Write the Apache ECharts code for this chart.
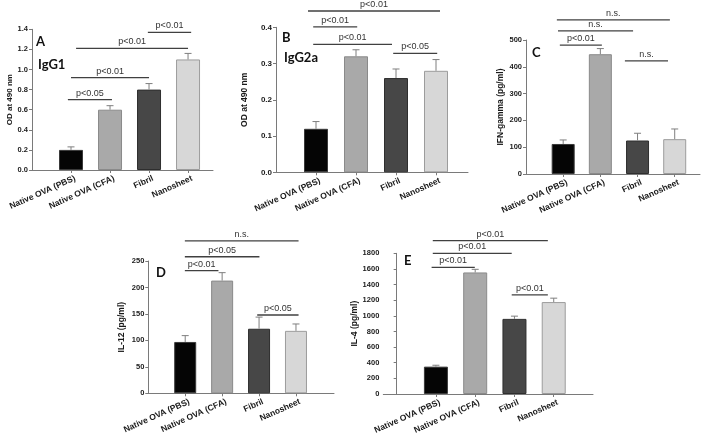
<!DOCTYPE html>
<html>
<head>
<meta charset="utf-8">
<script src="https://cdn.jsdelivr.net/npm/echarts@6/dist/echarts.min.js"></script>
<style>html,body{margin:0;padding:0;background:#fff}#c{width:713px;height:441px}</style>
</head>
<body>
<div id="c"></div>
<script>
// ---------- data ----------
const categories = ['Native OVA (PBS)', 'Native OVA (CFA)', 'Fibril', 'Nanosheet'];
const catPos = [1, 2, 3, 4];

const igg1Mean = [0.2, 0.6, 0.8, 1.1];
const igg1Err  = [0.03, 0.04, 0.06, 0.06];
const igg1Sig  = [[0.92, 2.05, 0.70, 'p<0.05'], [1.0, 3.0, 0.92, 'p<0.01'], [1.13, 4.0, 1.21, 'p<0.01'], [2.97, 4.08, 1.37, 'p<0.01']];
const igg1Ticks = [0, 1.4, 0.2];

const igg2aMean = [0.12, 0.32, 0.26, 0.28];
const igg2aErr  = [0.02, 0.018, 0.025, 0.031];
const igg2aSig  = [[0.8, 4.1, 0.445, 'p<0.01'], [0.93, 2.03, 0.401, 'p<0.01'], [0.93, 2.9, 0.353, 'p<0.01'], [2.93, 4.03, 0.328, 'p<0.05']];
const igg2aTicks = [0, 0.4, 0.1];

const ifnMean = [112, 447, 125, 130];
const ifnErr  = [15, 21, 27, 38];
const ifnSig  = [[0.83, 3.87, 575, 'n.s.'], [0.86, 2.88, 534, 'n.s.'], [0.91, 2.04, 481, 'p<0.01'], [2.66, 3.82, 422, 'n.s.']];
const ifnTicks = [0, 500, 100];

const il12Mean = [97, 213, 122, 118];
const il12Err  = [12, 15, 22, 13];
const il12Sig  = [[0.99, 4.07, 288, 'n.s.'], [0.99, 3.01, 258, 'p<0.05'], [0.99, 1.9, 232, 'p<0.01'], [2.95, 4.07, 148, 'p<0.05']];
const il12Ticks = [0, 250, 50];

const il4Mean = [350, 1555, 961, 1176];
const il4Err  = [18, 40, 35, 50];
const il4Sig  = [[0.92, 3.85, 1962, 'p<0.01'], [0.92, 2.93, 1800, 'p<0.01'], [0.89, 1.99, 1621, 'p<0.01'], [2.93, 3.85, 1267, 'p<0.01']];
const il4Ticks = [0, 1800, 200];

// ---------- styles / layout ----------
const barFill   = ['#050505', '#a9a9a9', '#474747', '#d7d7d7'];
const barBorder = ['#3a3a3a', '#8a8a8a', '#2e2e2e', '#9c9c9c'];
const FONT = 'Liberation Sans';
const LABEL_ROT = 24 * Math.PI / 180;

const panels = [
  {mean: igg1Mean, err: igg1Err, sig: igg1Sig, ticks: igg1Ticks, dec: 1, name: 'OD at 490 nm', letter: 'A', sub: 'IgG1',
   grid: {left: 32, top: 29.3, width: 181, height: 140.7}, xr: [0, 4.64], bw: 24, nameGap: 16, nameSize: 8, tickSize: 7.5,
   letterPos: [36, 35], subPos: [38, 58]},
  {mean: igg2aMean, err: igg2aErr, sig: igg2aSig, ticks: igg2aTicks, dec: 1, name: 'OD at 490 nm', letter: 'B', sub: 'IgG2a',
   grid: {left: 276, top: 27.3, width: 192, height: 145}, xr: [0, 4.8], bw: 24, nameGap: 27, nameSize: 8.5, tickSize: 8,
   letterPos: [282, 31], subPos: [284, 51]},
  {mean: ifnMean, err: ifnErr, sig: ifnSig, ticks: ifnTicks, dec: 0, name: 'IFN-gamma (pg/ml)', letter: 'C', sub: '',
   grid: {left: 526, top: 40, width: 174, height: 134}, xr: [0, 4.68], bw: 23, nameGap: 21, nameSize: 8.5, tickSize: 7.5,
   letterPos: [532, 46]},
  {mean: il12Mean, err: il12Err, sig: il12Sig, ticks: il12Ticks, dec: 0, name: 'IL-12 (pg/ml)', letter: 'D', sub: '',
   grid: {left: 148.3, top: 261, width: 185.7, height: 132.3}, xr: [0, 5.03], bw: 22, nameGap: 22, nameSize: 8.5, tickSize: 7.5,
   letterPos: [156, 266]},
  {mean: il4Mean, err: il4Err, sig: il4Sig, ticks: il4Ticks, dec: 0, name: 'IL-4 (pg/ml)', letter: 'E', sub: '',
   grid: {left: 383.3, top: 253.3, width: 209.7, height: 140.7}, xr: [-0.34, 5.0], bw: 24, nameGap: 17, nameSize: 8.5, tickSize: 7.5,
   letterPos: [404, 254]}
];

const grids = [], xAxes = [], yAxes = [], series = [], graphics = [];

panels.forEach((p, i) => {
  grids.push(Object.assign({}, p.grid));
  xAxes.push({
    type: 'value', gridIndex: i, min: p.xr[0], max: p.xr[1],
    splitLine: {show: false},
    axisLine: {show: true, lineStyle: {color: '#7a7a7a', width: 1}},
    axisTick: {show: true, customValues: catPos, length: 3, lineStyle: {color: '#7a7a7a'}},
    axisLabel: {show: false}
  });
  yAxes.push({
    type: 'value', gridIndex: i, min: p.ticks[0], max: p.ticks[1], interval: p.ticks[2],
    splitLine: {show: false},
    axisLine: {show: true, lineStyle: {color: '#7a7a7a', width: 1}},
    axisTick: {show: true, length: 3, lineStyle: {color: '#7a7a7a'}},
    axisLabel: {color: '#1a1a1a', fontWeight: 'bold', fontSize: p.tickSize, fontFamily: FONT, margin: 4,
      formatter: v => v.toFixed(p.dec)},
    name: p.name, nameLocation: 'middle', nameGap: p.nameGap, nameRotate: 90,
    nameTextStyle: {color: '#1a1a1a', fontWeight: 'bold', fontSize: p.nameSize, fontFamily: FONT}
  });
  // bars
  series.push({
    type: 'bar', xAxisIndex: i, yAxisIndex: i, barWidth: p.bw, silent: true,
    data: p.mean.map((m, k) => ({value: [catPos[k], m],
      itemStyle: {color: barFill[k], borderColor: barBorder[k], borderWidth: 1}}))
  });
  // error bars
  series.push({
    type: 'custom', xAxisIndex: i, yAxisIndex: i, silent: true, z: 3,
    data: p.mean.map((m, k) => [catPos[k], m, m + p.err[k]]),
    renderItem: (params, api) => {
      const b = api.coord([api.value(0), api.value(1)]);
      const t = api.coord([api.value(0), api.value(2)]);
      const st = {stroke: '#7f7f7f', lineWidth: 1};
      return {type: 'group', children: [
        {type: 'line', shape: {x1: b[0], y1: b[1], x2: t[0], y2: t[1]}, style: st},
        {type: 'line', shape: {x1: t[0] - 3.5, y1: t[1], x2: t[0] + 3.5, y2: t[1]}, style: st}
      ]};
    }
  });
  // significance brackets
  series.push({
    type: 'custom', xAxisIndex: i, yAxisIndex: i, silent: true, clip: false, z: 4,
    data: p.sig,
    renderItem: (params, api) => {
      const a = api.coord([api.value(0), api.value(2)]);
      const b = api.coord([api.value(1), api.value(2)]);
      const label = p.sig[params.dataIndex][3];
      return {type: 'group', children: [
        {type: 'line', shape: {x1: a[0], y1: a[1], x2: b[0], y2: b[1]}, style: {stroke: '#404040', lineWidth: 1.3}},
        {type: 'text', x: (a[0] + b[0]) / 2, y: a[1] - 2,
         style: {text: label, fill: '#333', font: '9px ' + FONT, textAlign: 'center', textVerticalAlign: 'bottom',
                 align: 'center', verticalAlign: 'bottom'}}
      ]};
    }
  });
  // rotated category labels placed at the axis ticks
  series.push({
    type: 'custom', xAxisIndex: i, yAxisIndex: i, silent: true, clip: false, z: 4,
    data: catPos.map((c, k) => [c, p.ticks[0], k]),
    renderItem: (params, api) => {
      const pt = api.coord([api.value(0), api.value(1)]);
      return {type: 'text', x: pt[0] + 4, y: pt[1] + 8, rotation: LABEL_ROT,
        style: {text: categories[api.value(2)], fill: '#1a1a1a', font: 'bold 8.5px ' + FONT,
                textAlign: 'right', textVerticalAlign: 'middle', align: 'right', verticalAlign: 'middle'}};
    }
  });
  graphics.push({type: 'text', left: p.letterPos[0], top: p.letterPos[1],
    style: {text: p.letter, fill: '#111', font: 'bold 13px Lato'}});
  if (p.sub) {
    graphics.push({type: 'text', left: p.subPos[0], top: p.subPos[1],
      style: {text: p.sub, fill: '#111', font: 'bold 13px Lato'}});
  }
});

const chart = echarts.init(document.getElementById('c'));
chart.setOption({
  animation: false,
  backgroundColor: '#fff',
  grid: grids, xAxis: xAxes, yAxis: yAxes, series: series, graphic: graphics
});
</script>
</body>
</html>
